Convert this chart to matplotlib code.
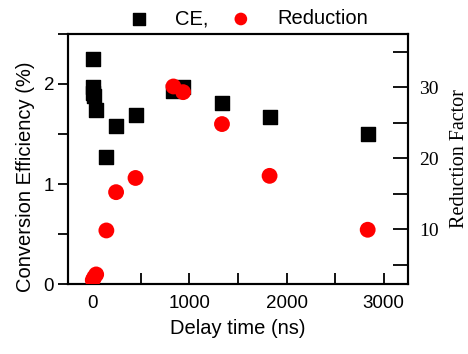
import matplotlib
matplotlib.use("Agg")
import matplotlib.pyplot as plt
from matplotlib.ticker import MultipleLocator

# CE data (black squares)
ce_delay = [5, 12, 8, 15, 40, 140, 245, 445, 835, 935, 1335, 1825, 2835]
ce_value = [2.25, 1.97, 1.91, 1.88, 1.74, 1.27, 1.58, 1.69, 1.93, 1.97, 1.81, 1.67, 1.50]

# Reduction factor data (red circles)
rf_delay = [5, 20, 40, 145, 245, 445, 835, 935, 1335, 1825, 2835]
rf_value = [2.8, 3.2, 3.6, 9.8, 15.2, 17.2, 30.1, 29.3, 24.8, 17.5, 9.9]

plt.rcParams['font.family'] = 'Liberation Sans'
plt.rcParams['font.size'] = 13.5

fig = plt.figure(figsize=(4.68, 3.54), dpi=100)
ax = fig.add_axes([0.1453, 0.1977, 0.7265, 0.7063])
ax2 = ax.twinx()

ax.scatter(ce_delay, ce_value, marker='s', s=105, color='black', label='CE,', zorder=3)
ax2.scatter(rf_delay, rf_value, marker='o', s=130, color='red', edgecolors='none', label='Reduction', zorder=3)

ax.set_xlim(-250, 3250)
ax.set_ylim(0, 2.5)
ax2.set_ylim(2.25, 37.5)

ax.xaxis.set_major_locator(MultipleLocator(1000))
ax.xaxis.set_minor_locator(MultipleLocator(500))
ax.yaxis.set_major_locator(MultipleLocator(1))
ax.yaxis.set_minor_locator(MultipleLocator(0.5))
ax2.yaxis.set_major_locator(MultipleLocator(10))
ax2.yaxis.set_minor_locator(MultipleLocator(5))

ax.tick_params(axis='x', which='both', direction='in', length=8, width=1.3, pad=8)
ax.tick_params(axis='y', which='both', direction='out', length=7, width=1.3, pad=3)
ax2.tick_params(axis='y', which='both', direction='in', length=11, width=1.3, pad=8)
for lab in ax2.get_yticklabels():
    lab.set_family('Liberation Serif')
    lab.set_fontsize(14)

for a in (ax, ax2):
    for sp in a.spines.values():
        sp.set_linewidth(1.5)

ax.set_xlabel('Delay time (ns)', fontsize=14.5, labelpad=5)
ax.set_ylabel('Conversion Efficiency (%)', fontsize=14.5)
ax.yaxis.set_label_coords(-0.097, 0.43)
ax2.set_ylabel('Reduction Factor', family='Liberation Serif', fontsize=14.5, labelpad=8)

h1, l1 = ax.get_legend_handles_labels()
h2, l2 = ax2.get_legend_handles_labels()
fig.legend(h1 + h2, l1 + l2, loc='upper center', bbox_to_anchor=(0.52, 1.025), ncol=2,
           frameon=False, handletextpad=0.8, columnspacing=0.6, markerscale=0.8,
           fontsize=14.5)

fig.savefig('out.png', dpi=100)
